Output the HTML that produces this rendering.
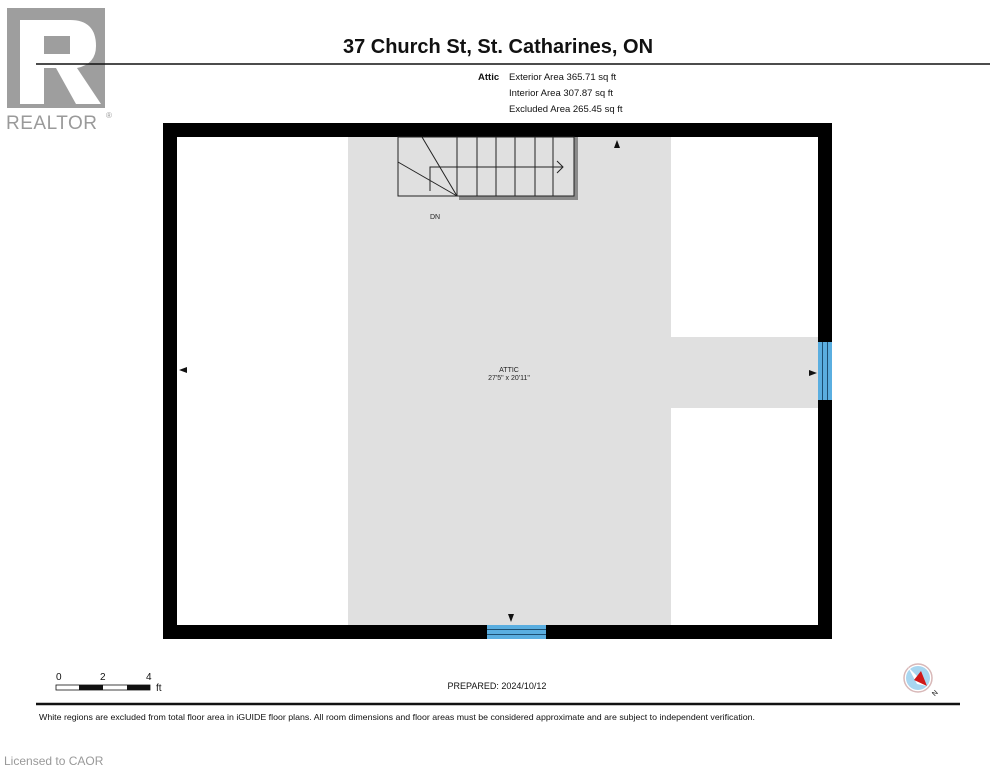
<!DOCTYPE html>
<html><head><meta charset="utf-8"><style>
html,body{margin:0;padding:0;background:#fff;width:995px;height:768px;overflow:hidden}
svg{display:block}
text{font-family:"Liberation Sans",Arial,sans-serif}
</style></head><body>
<svg width="995" height="768" viewBox="0 0 995 768" xmlns="http://www.w3.org/2000/svg">
<rect x="7" y="8" width="98" height="100" fill="#9e9e9e"/>
<path d="M20 20 H70 Q96 20 96 46 Q96 64 77 68 L101 104 H76 L56 68 H44 V104 H20 Z" fill="#fff"/>
<rect x="44" y="36" width="26" height="18" fill="#9e9e9e"/>
<text x="6" y="129" font-size="19" fill="#9a9a9a" letter-spacing="0.5">REALTOR</text>
<text x="106" y="118" font-size="8" fill="#9a9a9a">®</text>
<text x="498" y="53" font-size="20" font-weight="bold" text-anchor="middle" fill="#111">37 Church St, St. Catharines, ON</text>
<line x1="36" y1="64" x2="990" y2="64" stroke="#111" stroke-width="1.5"/>
<text x="478" y="80" font-size="9.5" font-weight="bold" fill="#111">Attic</text>
<text x="509" y="80" font-size="9.5" fill="#111">Exterior Area 365.71 sq ft</text>
<text x="509" y="96" font-size="9.5" fill="#111">Interior Area 307.87 sq ft</text>
<text x="509" y="112" font-size="9.5" fill="#111">Excluded Area 265.45 sq ft</text>
<rect x="163" y="123" width="669" height="516" fill="#000"/>
<rect x="177" y="137" width="641" height="488" fill="#fff"/>
<rect x="348" y="137" width="323" height="488" fill="#e0e0e0"/>
<rect x="671" y="337" width="147" height="71" fill="#e0e0e0"/>
<rect x="818" y="342" width="14" height="58" fill="#5aaee0"/>
<line x1="822.5" y1="342" x2="822.5" y2="400" stroke="#1d4f72" stroke-width="1"/>
<line x1="827.5" y1="342" x2="827.5" y2="400" stroke="#1d4f72" stroke-width="1"/>
<rect x="487" y="625" width="59" height="14" fill="#5aaee0"/>
<line x1="487" y1="629.5" x2="546" y2="629.5" stroke="#1d4f72" stroke-width="1"/>
<line x1="487" y1="634.5" x2="546" y2="634.5" stroke="#1d4f72" stroke-width="1"/>
<rect x="459" y="137" width="119" height="63" fill="#8a8a8a"/>
<rect x="398" y="137" width="176" height="59" fill="#e0e0e0" stroke="#222" stroke-width="1"/>
<rect x="457" y="137" width="117" height="59" fill="#e0e0e0" stroke="#222" stroke-width="1"/>
<g stroke="#222" stroke-width="1">
<line x1="477" y1="137" x2="477" y2="196"/><line x1="496" y1="137" x2="496" y2="196"/>
<line x1="515" y1="137" x2="515" y2="196"/><line x1="535" y1="137" x2="535" y2="196"/>
<line x1="553" y1="137" x2="553" y2="196"/>
<line x1="422" y1="137" x2="457" y2="196"/><line x1="398" y1="162" x2="457" y2="196"/>
<polyline points="430,191 430,167 563,167" fill="none"/>
<polyline points="557,161 563,167 557,173" fill="none"/>
</g>
<text x="430" y="219" font-size="7" fill="#222">DN</text>
<path d="M617 140 L620 148 L614 148 Z" fill="#111"/>
<path d="M179 370 L187 367 L187 373 Z" fill="#111"/>
<path d="M817 373 L809 370 L809 376 Z" fill="#111"/>
<path d="M511 622 L508 614 L514 614 Z" fill="#111"/>
<text x="509" y="372" font-size="7" text-anchor="middle" fill="#222">ATTIC</text>
<text x="509" y="380" font-size="7" text-anchor="middle" fill="#222">27'5" x 20'11"</text>
<text x="56" y="680" font-size="10" fill="#111">0</text>
<text x="100" y="680" font-size="10" fill="#111">2</text>
<text x="146" y="680" font-size="10" fill="#111">4</text>
<rect x="56" y="685" width="94" height="5" fill="#fff" stroke="#111" stroke-width="0.8"/>
<rect x="79" y="685" width="24" height="5" fill="#111"/>
<rect x="127" y="685" width="23" height="5" fill="#111"/>
<text x="156" y="691" font-size="10" fill="#111">ft</text>
<text x="497" y="689" font-size="9" text-anchor="middle" fill="#111">PREPARED: 2024/10/12</text>
<circle cx="918" cy="678" r="14" fill="#fff" stroke="#d8b8b8" stroke-width="1.5"/>
<circle cx="918" cy="678" r="12" fill="#a8d6f0"/>
<path d="M908 667 L927 686 L917 684 Z" fill="#fff"/>
<path d="M927 686 L914 680 L921 671 Z" fill="#d01818"/>
<text x="932" y="696" font-size="7" fill="#111" transform="rotate(-45 934 693)">N</text>
<line x1="36" y1="704" x2="960" y2="704" stroke="#111" stroke-width="2.5"/>
<text x="39" y="720" font-size="8.5" fill="#111" textLength="716" lengthAdjust="spacingAndGlyphs">White regions are excluded from total floor area in iGUIDE floor plans. All room dimensions and floor areas must be considered approximate and are subject to independent verification.</text>
<text x="4" y="765" font-size="12" fill="#999">Licensed to CAOR</text>
</svg>
</body></html>
